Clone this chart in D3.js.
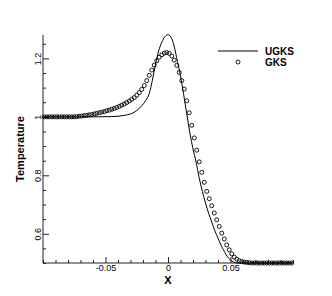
<!DOCTYPE html>
<html><head><meta charset="utf-8">
<script src="https://cdn.jsdelivr.net/npm/d3@7/dist/d3.min.js"></script>
<style>body{margin:0;background:#fff}svg{display:block}text{font-family:"Liberation Sans",Arial,sans-serif}</style>
</head><body><svg id="c" width="332" height="296"></svg>
<script>
// UGKS solid line
const ugksX = [-0.1,-0.06,-0.045,-0.04,-0.035,-0.03,-0.027,-0.024,-0.021,-0.018,-0.015,-0.0125,-0.01,-0.0075,-0.005,-0.0025,0,0.0025,0.005,0.0075,0.01,0.0125,0.015,0.0175,0.02,0.0225,0.025,0.0275,0.03,0.0325,0.035,0.0375,0.04,0.0425,0.045,0.0475,0.05,0.0525,0.055,0.06,0.1];
const ugksT = [1.0,1.0,1.001,1.002,1.005,1.010,1.016,1.025,1.038,1.055,1.08,1.125,1.18,1.225,1.255,1.274,1.281,1.272,1.24,1.19,1.14,1.077,1.01,0.945,0.89,0.845,0.79,0.745,0.705,0.67,0.64,0.61,0.585,0.56,0.54,0.522,0.51,0.503,0.5,0.5,0.5];
// GKS circles
const gksX = [-0.099,-0.097,-0.095,-0.093,-0.091,-0.089,-0.087,-0.085,-0.083,-0.081,-0.079,-0.077,-0.075,-0.073,-0.071,-0.069,-0.067,-0.065,-0.063,-0.061,-0.059,-0.057,-0.055,-0.053,-0.051,-0.049,-0.047,-0.045,-0.043,-0.041,-0.039,-0.037,-0.035,-0.033,-0.031,-0.029,-0.027,-0.025,-0.023,-0.021,-0.019,-0.017,-0.015,-0.013,-0.011,-0.009,-0.007,-0.005,-0.003,-0.001,0.001,0.003,0.005,0.007,0.009,0.011,0.013,0.015,0.017,0.019,0.021,0.023,0.025,0.027,0.029,0.031,0.033,0.035,0.037,0.039,0.041,0.043,0.045,0.047,0.049,0.051,0.053,0.055,0.057,0.059,0.061,0.063,0.065,0.067,0.069,0.071,0.073,0.075,0.077,0.079,0.081,0.083,0.085,0.087,0.089,0.091,0.093,0.095,0.097,0.099];
const gksT = [1,1,1,1,1,1,1,1,1,1,1,1,1,1.001,1.002,1.003,1.004,1.005,1.007,1.008,1.010,1.012,1.014,1.016,1.018,1.021,1.023,1.026,1.029,1.032,1.036,1.040,1.044,1.049,1.054,1.060,1.066,1.074,1.083,1.094,1.107,1.124,1.142,1.160,1.177,1.192,1.204,1.212,1.218,1.220,1.217,1.208,1.194,1.176,1.152,1.124,1.095,1.055,1.014,0.971,0.928,0.886,0.846,0.810,0.776,0.745,0.720,0.696,0.671,0.648,0.625,0.602,0.582,0.562,0.545,0.531,0.520,0.513,0.508,0.505,0.503,0.502,0.501,0.5,0.5,0.5,0.5,0.5,0.5,0.5,0.5,0.5,0.5,0.5,0.5,0.5,0.5,0.5,0.5,0.5];
const xMajor = [-0.05, 0, 0.05];
const xMajorLabels = ["-0.05", "0", "0.05"];
const yMajor = [0.6, 0.8, 1, 1.2];
const yMajorLabels = ["0.6", "0.8", "1", "1.2"];
const seriesNames = ["UGKS", "GKS"];

const svg = d3.select("#c");
const x = d3.scaleLinear().domain([-0.1, 0.1]).range([43, 293]);
const y = d3.scaleLinear().domain([0.5, 1.28]).range([263, 35]);
const ink = "#222";

// minor ticks
const xMinor = d3.range(-0.1, 0.1001, 0.01).map(v => +v.toFixed(3)).filter(v => !xMajor.some(m => Math.abs(m - v) < 1e-9));
const yMinor = d3.range(0.5, 1.28, 0.05).map(v => +v.toFixed(3)).filter(v => !yMajor.some(m => Math.abs(m - v) < 1e-9));

const gx = svg.append("g").attr("transform", "translate(0,263)");
gx.call(d3.axisBottom(x).tickValues(xMinor).tickSize(-3).tickFormat("")).call(g => g.select(".domain").remove());
gx.call(g => g.selectAll(".tick line").attr("stroke", ink));
const gx2 = svg.append("g").attr("transform", "translate(0,263)");
gx2.call(d3.axisBottom(x).tickValues(xMajor).tickSize(-6).tickPadding(2).tickFormat((d, i) => xMajorLabels[i]));
gx2.select(".domain").attr("d", `M${x(-0.1)},0H${x(0.1)}`).attr("stroke", ink);
gx2.selectAll(".tick line").attr("stroke", ink);
gx2.selectAll(".tick text").attr("font-size", 9).attr("fill", "#000").attr("font-family", "Liberation Sans, Arial, sans-serif");

const gy = svg.append("g").attr("transform", "translate(43,0)");
gy.call(d3.axisLeft(y).tickValues(yMinor).tickSize(-3).tickFormat("")).call(g => g.select(".domain").remove());
gy.selectAll(".tick line").attr("stroke", ink);
const gy2 = svg.append("g").attr("transform", "translate(43,0)");
gy2.call(d3.axisLeft(y).tickValues(yMajor).tickSize(-6).tickFormat(""));
gy2.select(".domain").attr("d", `M0,${y(0.5)}V${y(1.28)}`).attr("stroke", ink);
gy2.selectAll(".tick line").attr("stroke", ink);
gy2.selectAll(".tick").append("text")
  .attr("transform", "translate(-2,0) rotate(-90)")
  .attr("text-anchor", "middle").attr("font-size", 9).attr("fill", "#000")
  .text((d, i) => yMajorLabels[i]);

// axis titles
svg.append("text").attr("transform", `translate(24,${(y(0.5)+y(1.28))/2}) rotate(-90)`)
  .attr("text-anchor", "middle").attr("font-size", 11).attr("font-weight", "bold").attr("fill", "#000").text("Temperature");
svg.append("text").attr("x", x(0)).attr("y", 284).attr("text-anchor", "middle")
  .attr("font-size", 11).attr("font-weight", "bold").attr("fill", "#000").text("X");

// UGKS line
const line = d3.line().x((d, i) => x(ugksX[i])).y((d, i) => y(ugksT[i])).curve(d3.curveMonotoneX);
svg.append("path").datum(ugksT).attr("d", line).attr("fill", "none").attr("stroke", "#000").attr("stroke-width", 1);

// GKS circles
svg.append("g").selectAll("circle").data(gksT).join("circle")
  .attr("cx", (d, i) => x(gksX[i])).attr("cy", d => y(d)).attr("r", 2)
  .attr("fill", "none").attr("stroke", "#000").attr("stroke-width", 0.9);

// legend
const lg = svg.append("g");
lg.append("line").attr("x1", 218).attr("x2", 258).attr("y1", 51).attr("y2", 51).attr("stroke", "#000");
lg.append("circle").attr("cx", 238).attr("cy", 62).attr("r", 2).attr("fill", "none").attr("stroke", "#000").attr("stroke-width", 0.9);
lg.append("text").attr("x", 265).attr("y", 55).attr("font-size", 10).attr("font-weight", "bold").attr("fill", "#000").text(seriesNames[0]);
lg.append("text").attr("x", 265).attr("y", 66).attr("font-size", 10).attr("font-weight", "bold").attr("fill", "#000").text(seriesNames[1]);
</script></body></html>
